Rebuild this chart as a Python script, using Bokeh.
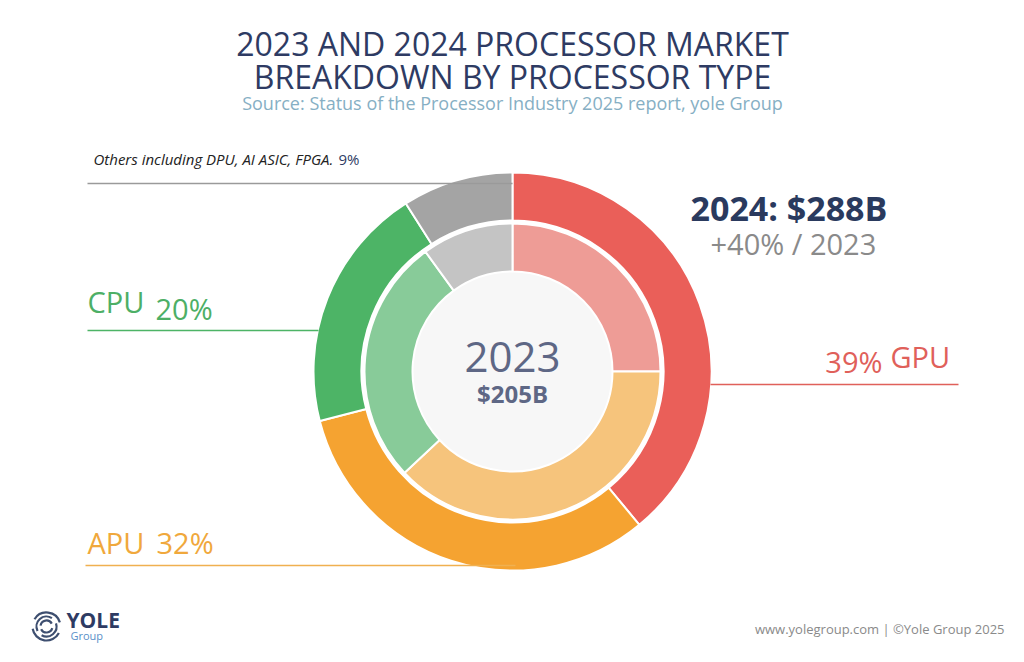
import numpy as np
from bokeh.plotting import figure
from bokeh.models import ColumnDataSource, Range1d
from bokeh.core.properties import value
from bokeh.embed import file_html
from bokeh.resources import INLINE

# ---- data ----
categories = ["GPU", "APU", "CPU", "Others"]
share_2024 = [39, 32, 20, 9]          # outer ring, %
share_2023 = [25, 38, 27, 10]
colors_2024 = ["#EA5F59", "#F5A331", "#4DB466", "#A4A4A4"]
colors_2023 = ["#EE9C96", "#F6C47C", "#88CB99", "#C4C4C4"]
total_2023 = "$205B"
total_2024 = "$288B"
growth = "+40% / 2023"

FONT = "Open Sans"
W, H = 1008, 646
CX, CY = 512, 371  # picture pixel coords of donut center
TXT_K = 0.42       # empirical baseline correction


def Y(py):
    return 662 - py


p = figure(width=W, height=H, output_backend="svg", toolbar_location=None,
           x_range=Range1d(0, W), y_range=Range1d(662 - H, 662),
           min_border=0, outline_line_color=None)
p.axis.visible = False
p.grid.visible = False
p.background_fill_color = "white"
p.border_fill_color = "white"


def ring_source(shares, colors):
    s = np.array(shares, dtype=float)
    frac = s / s.sum()
    cum = np.concatenate([[0], np.cumsum(frac)])
    start = np.pi / 2 - 2 * np.pi * cum[:-1]
    end = np.pi / 2 - 2 * np.pi * cum[1:]
    return ColumnDataSource(dict(cat=categories, start=start, end=end, color=colors))


src_out = ring_source(share_2024, colors_2024)
src_in = ring_source(share_2023, colors_2023)

# center disc
p.scatter(x=[CX], y=[Y(CY)], size=2 * 100, fill_color="#F7F7F7", line_color=None)

p.annular_wedge(x=CX, y=Y(CY), inner_radius=151, outer_radius=199,
                start_angle="start", end_angle="end", direction="clock",
                fill_color="color", line_color="white", line_width=2, source=src_out)
p.annular_wedge(x=CX, y=Y(CY), inner_radius=100, outer_radius=148,
                start_angle="start", end_angle="end", direction="clock",
                fill_color="color", line_color="white", line_width=2, source=src_in)

# leader lines
p.line(x=[87, 512], y=[Y(183), Y(183)], line_color="#9A9A9A", line_width=1.5)
p.line(x=[87, 318], y=[Y(330), Y(330)], line_color="#4DB466", line_width=1.5)
p.line(x=[85, 515], y=[Y(565), Y(565)], line_color="#F0B050", line_width=1.5)
p.line(x=[710, 958], y=[Y(384), Y(384)], line_color="#E0605A", line_width=1.5)


def txt(x, y, t, size, color, align="left", style="normal"):
    p.text(x=[x], y=[Y(y - TXT_K * size)], text=[t], text_font=value(FONT),
           text_font_size=f"{size}px", text_color=color, text_align=align,
           text_baseline="alphabetic", text_font_style=style)


# title
txt(512, 56, "2023 AND 2024 PROCESSOR MARKET", 32, "#2E3B63", "center")
txt(512, 89, "BREAKDOWN BY PROCESSOR TYPE", 32, "#2E3B63", "center")
txt(512, 110, "Source: Status of the Processor Industry 2025 report, yole Group", 18, "#86AFC4", "center")

# others label
txt(93, 165, "Others including DPU, AI ASIC, FPGA.", 15, "#222222", style="italic")
txt(338, 165, f"{share_2024[3]}%", 15, "#2E3B63")

# CPU
txt(87, 313, categories[2], 29, "#4DAF66")
txt(155, 320, f"{share_2024[2]}%", 29, "#4DAF66")
# APU
txt(87, 554, categories[1], 29, "#F0A83C")
txt(156, 554, f"{share_2024[1]}%", 29, "#F0A83C")
# GPU
txt(882, 373, f"{share_2024[0]}%", 29, "#E0605A", "right")
txt(890, 368, categories[0], 29, "#E0605A")

# 2024 total
txt(690, 222, f"2024: {total_2024}", 34, "#2A3A5E", style="bold")
txt(710, 255, growth, 29, "#8A8A8A")

# center
txt(512, 374, "2023", 42, "#5E6785", "center")
txt(512, 403, total_2023, 24, "#5E6785", "center", style="bold")

# footer
txt(1004, 634, "www.yolegroup.com | \u00a9Yole Group 2025", 13, "#8A8A8A", "right")
txt(66, 628, "YOLE", 21, "#2E3B63", style="bold")
txt(70, 640, "Group", 11, "#5A8FC8")
# logo arcs
for r, a0, a1 in [(14, 0.3, 2.6), (14, 3.3, 5.8), (10, 1.0, 3.6), (10, 4.2, 6.6), (6, 0.5, 3.0), (6, 3.6, 6.0)]:
    p.arc(x=[46], y=[Y(626)], radius=r, start_angle=a0, end_angle=a1,
          line_color="#3E4F70", line_width=2.2)

open("out.html", "w").write(file_html(p, INLINE))
